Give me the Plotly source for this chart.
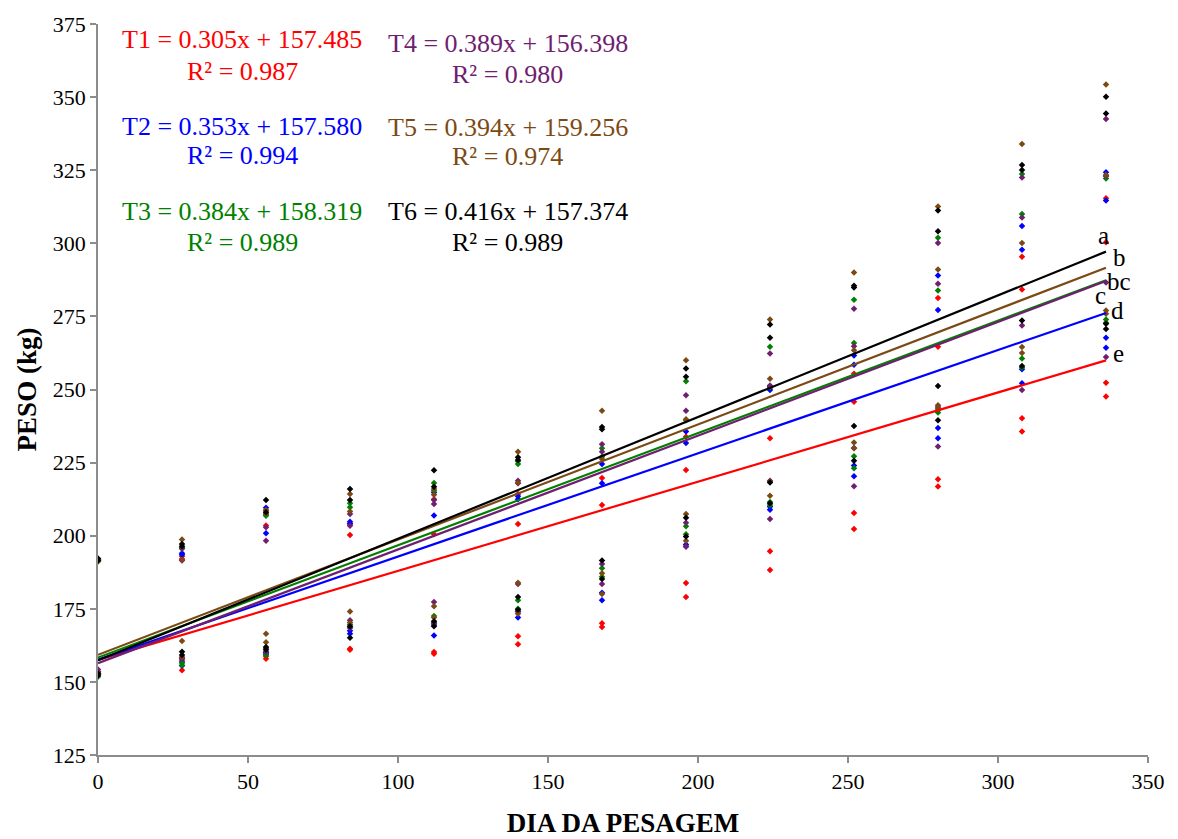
import plotly.graph_objects as go

# Weighing days
dias = [0, 28, 56, 84, 112, 140, 168, 196, 224, 252, 280, 308, 336]

# Body weight (kg) per treatment: four animals per weighing day
peso_t1 = [
    [191.5, 191.8, 152.5, 153.0], [193.0, 192.0, 157.5, 154.0], [203.5, 208.5, 157.9, 158.8],
    [200.2, 204.0, 161.3, 161.0], [212.5, 200.5, 160.2, 159.6], [214.3, 204.0, 165.6, 162.9],
    [219.7, 210.5, 170.1, 168.8], [233.8, 222.5, 183.8, 179.0], [233.3, 250.5, 194.7, 188.3],
    [255.4, 245.8, 207.8, 202.3], [281.3, 264.6, 219.3, 216.8], [295.4, 284.2, 240.2, 235.6],
    [315.4, 300.4, 252.3, 247.6],
]
peso_t2 = [
    [191.5, 192.0, 152.8, 153.5], [194.0, 193.5, 156.8, 155.5], [209.6, 200.8, 160.0, 159.5],
    [204.2, 204.8, 166.5, 167.5], [214.8, 206.9, 165.9, 169.5], [212.5, 213.5, 172.0, 174.0],
    [224.5, 217.9, 177.9, 180.5], [235.6, 231.7, 196.3, 197.0], [249.8, 251.0, 209.9, 208.9],
    [261.6, 258.5, 224.0, 220.3], [289.0, 277.2, 236.8, 233.3], [305.9, 297.8, 256.9, 252.1],
    [324.3, 314.6, 267.7, 264.3],
]
peso_t3 = [
    [191.2, 191.8, 151.8, 152.5], [196.0, 195.5, 156.5, 155.7], [207.2, 206.8, 159.1, 160.3],
    [211.1, 209.7, 169.6, 168.8], [218.0, 215.4, 172.5, 170.3], [224.5, 225.5, 177.9, 175.0],
    [229.9, 227.0, 188.9, 186.0], [252.8, 239.5, 203.2, 200.5], [264.6, 250.8, 210.5, 211.5],
    [280.7, 265.9, 227.2, 223.1], [301.9, 283.9, 242.1, 243.0], [323.7, 310.0, 260.6, 257.5],
    [322.2, 323.0, 273.9, 272.8],
]
peso_t4 = [
    [191.5, 192.0, 154.2, 153.5], [195.7, 191.5, 158.3, 157.9], [202.9, 198.3, 161.5, 160.2],
    [207.4, 203.4, 171.1, 168.4], [212.2, 210.8, 177.3, 170.0], [218.8, 217.9, 174.2, 183.5],
    [231.3, 228.7, 190.3, 183.5], [248.0, 242.7, 204.4, 196.3], [262.3, 251.4, 218.8, 205.7],
    [277.6, 264.8, 216.9, 230.0], [300.1, 286.2, 230.5, 244.0], [322.5, 308.8, 271.9, 249.8],
    [342.5, 323.0, 286.6, 261.1],
]
peso_t5 = [
    [191.3, 191.8, 153.0, 152.4], [198.7, 191.8, 164.0, 158.5], [208.8, 207.5, 166.5, 163.6],
    [214.3, 208.3, 174.1, 170.3], [216.0, 214.0, 175.9, 172.0], [228.7, 218.0, 183.9, 173.3],
    [242.7, 226.2, 187.2, 180.1], [260.0, 239.8, 207.4, 198.3], [273.9, 253.7, 213.7, 218.5],
    [290.0, 263.4, 231.9, 229.9], [312.6, 291.0, 244.6, 243.6], [334.0, 300.1, 264.5, 262.5],
    [354.3, 323.4, 277.0, 275.9],
]
peso_t6 = [
    [191.5, 192.2, 152.9, 152.2], [197.2, 196.4, 160.3, 159.2], [212.2, 208.0, 161.9, 161.0],
    [216.0, 212.2, 169.0, 165.1], [222.4, 216.7, 170.7, 169.0], [226.8, 225.9, 179.0, 174.7],
    [237.2, 236.4, 191.5, 185.2], [257.2, 254.4, 206.1, 199.7], [272.2, 267.7, 218.2, 211.1],
    [284.9, 285.5, 237.5, 225.6], [311.2, 304.1, 251.2, 239.5], [326.8, 325.1, 273.6, 258.0],
    [350.1, 344.4, 270.7, 272.5],
]

tratamentos = ["T1", "T2", "T3", "T4", "T5", "T6"]
pesos = [peso_t1, peso_t2, peso_t3, peso_t4, peso_t5, peso_t6]
cores = ["#FF0000", "#0000FF", "#008000", "#701E70", "#7B4A14", "#000000"]

# Linear regression coefficients and R²
inclinacao = [0.305, 0.353, 0.384, 0.389, 0.394, 0.416]
intercepto = [157.485, 157.580, 158.319, 156.398, 159.256, 157.374]
r2 = [0.987, 0.994, 0.989, 0.980, 0.974, 0.989]

# Significance letters at the end of each line
letras = ["a", "b", "bc", "c", "d", "e"]
letras_x = [335, 340.5, 340.3, 334, 339.7, 340.3]
letras_y = [302.5, 295.0, 287.0, 282.0, 277.0, 262.3]

FONTE = "Liberation Serif, Times New Roman, serif"

fig = go.Figure()

for nome, serie, cor in zip(tratamentos, pesos, cores):
    xs, ys = [], []
    for d, valores in zip(dias, serie):
        for v in valores:
            xs.append(d)
            ys.append(v)
    fig.add_trace(go.Scatter(
        x=xs, y=ys, mode="markers", name=nome, showlegend=False,
        marker=dict(symbol="diamond", size=5, color=cor, line=dict(width=0)),
    ))

x_fim = dias[-1]
for nome, a, b, cor in zip(tratamentos, inclinacao, intercepto, cores):
    fig.add_trace(go.Scatter(
        x=[0, x_fim], y=[b, a * x_fim + b], mode="lines", showlegend=False,
        line=dict(color=cor, width=2.2),
    ))

# Equation labels (two columns, three rows)
col_x = [48, 48, 48, 136.5, 136.5, 136.5]
eq_y = [369.6, 340.0, 311.0, 368.3, 339.6, 311.0]
r2_y = [358.7, 330.1, 300.4, 357.7, 329.7, 300.4]
for i, (nome, a, b, r, cor) in enumerate(zip(tratamentos, inclinacao, intercepto, r2, cores)):
    fig.add_annotation(x=col_x[i], y=eq_y[i], xref="x", yref="y", showarrow=False,
                       text=f"{nome} = {a:.3f}x + {b:.3f}", xanchor="center", yanchor="middle",
                       font=dict(family=FONTE, size=26, color=cor))
    fig.add_annotation(x=col_x[i], y=r2_y[i], xref="x", yref="y", showarrow=False,
                       text=f"R² = {r:.3f}", xanchor="center", yanchor="middle",
                       font=dict(family=FONTE, size=26, color=cor))

for t, lx, ly in zip(letras, letras_x, letras_y):
    fig.add_annotation(x=lx, y=ly, xref="x", yref="y", showarrow=False, text=t,
                       xanchor="center", yanchor="middle",
                       font=dict(family=FONTE, size=25, color="#000000"))

eixo = dict(showgrid=False, zeroline=False, showline=True, linecolor="#8C8C8C", linewidth=1.5,
            ticks="outside", tickcolor="#8C8C8C", ticklen=6, tickwidth=1.5,
            tickfont=dict(family=FONTE, size=22, color="#000000"))

fig.update_layout(
    width=1178, height=839,
    margin=dict(l=98, r=30, t=22, b=84),
    paper_bgcolor="white", plot_bgcolor="white",
    xaxis=dict(range=[0, 350], tickvals=[0, 50, 100, 150, 200, 250, 300, 350], automargin=False,
               title=dict(text="<b>DIA DA PESAGEM</b>", standoff=20,
                          font=dict(family=FONTE, size=27, color="#000000")), **eixo),
    yaxis=dict(range=[125, 375], tickvals=list(range(125, 376, 25)),
               title=dict(text="<b>PESO (kg)</b>", standoff=8,
                          font=dict(family=FONTE, size=27, color="#000000")), **eixo),
)

fig.write_html("out.html")
